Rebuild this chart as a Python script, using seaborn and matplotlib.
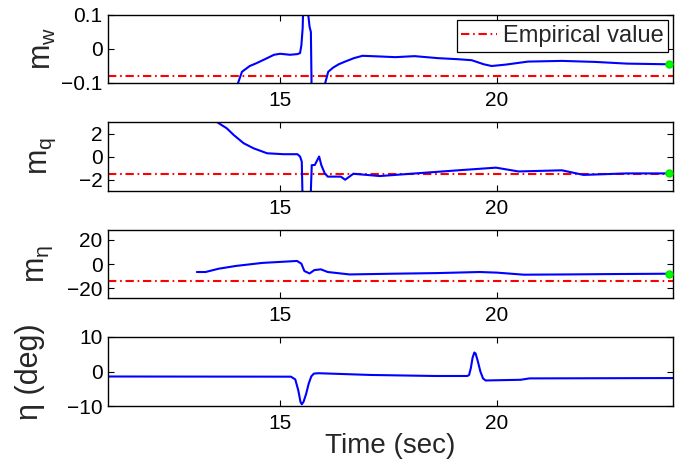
import matplotlib
matplotlib.use("Agg")
import matplotlib.pyplot as plt
from matplotlib.ticker import FixedLocator, FuncFormatter
import numpy as np
import pandas as pd
import seaborn as sns

# ---- data -------------------------------------------------------------
# m_w estimate
t_mw = [13.10, 13.95, 14.03, 14.12, 14.30, 14.45, 14.65, 14.86, 15.00, 15.23,
        15.40, 15.46, 15.49, 15.52, 15.55, 15.62, 15.65, 15.68, 15.71, 15.73,
        15.80, 16.00, 16.04, 16.11, 16.22, 16.35, 16.50, 16.70, 16.90, 17.30,
        17.66, 18.10, 18.65, 19.10, 19.42, 19.70, 19.88, 20.20, 20.72, 21.50,
        22.27, 23.00, 23.98]
v_mw = [-0.400, -0.130, -0.100, -0.067, -0.050, -0.042, -0.030, -0.017, -0.014, -0.017,
        -0.015, -0.012, 0.010, 0.060, 0.200, 0.250, 0.100, 0.065, 0.050, -0.150,
        -0.300, -0.120, -0.100, -0.067, -0.055, -0.045, -0.037, -0.027, -0.020, -0.022,
        -0.024, -0.021, -0.027, -0.030, -0.033, -0.045, -0.050, -0.046, -0.037, -0.035,
        -0.038, -0.043, -0.045]
emp_mw = -0.08

# m_q estimate
t_mq = [13.10, 13.54, 13.77, 13.93, 14.16, 14.39, 14.70, 15.08, 15.40, 15.46,
        15.50, 15.52, 15.60, 15.70, 15.73, 15.80, 15.90, 15.95, 16.03, 16.10,
        16.40, 16.50, 16.69, 17.30, 18.45, 19.22, 19.98, 20.50, 21.50, 22.00,
        23.00, 23.98]
v_mq = [6.0, 3.0, 2.45, 1.87, 1.15, 0.71, 0.28, 0.20, 0.20, 0.00,
        -0.45, -4.0, -8.0, -4.0, -0.75, -0.74, 0.00, -0.74, -1.47, -1.75,
        -1.75, -2.02, -1.50, -1.70, -1.38, -1.17, -0.97, -1.30, -1.20, -1.60,
        -1.47, -1.47]
emp_mq = -1.5

# m_eta estimate
t_me = [13.08, 13.28, 13.58, 13.98, 14.59, 15.39, 15.49, 15.56, 15.68, 15.79,
        15.94, 16.10, 16.60, 17.60, 18.60, 19.60, 20.00, 20.62, 21.60, 22.60,
        23.98]
v_me = [-6.6, -6.6, -3.9, -1.6, 0.9, 2.5, 0.3, -5.8, -7.8, -5.0,
        -4.4, -6.6, -8.6, -8.0, -7.5, -6.6, -7.1, -8.8, -8.6, -8.3,
        -8.0]
emp_me = -14.0

# elevator deflection eta (deg)
t_eta = [11.03, 15.25, 15.35, 15.42, 15.47, 15.50, 15.54, 15.60, 15.66, 15.72,
         15.78, 15.89, 17.08, 18.57, 19.32, 19.36, 19.40, 19.44, 19.48, 19.51,
         19.56, 19.62, 19.68, 19.74, 20.55, 20.75, 24.07]
v_eta = [-1.45, -1.5, -2.3, -5.5, -8.8, -9.5, -8.8, -6.5, -3.5, -1.4,
         -0.6, -0.5, -1.0, -1.3, -1.3, -1.0, 1.0, 4.0, 5.5, 5.2,
         3.0, 0.0, -2.0, -2.6, -2.4, -2.0, -1.9]

x_ticks = [15, 20]
x_range = (11.03, 24.07)

panels = [
    dict(t=t_mw, v=v_mw, emp=emp_mw, ylim=(-0.1, 0.1), yticks=[-0.1, 0, 0.1],
         label=r"$m_w$", lx=-0.088, rect=[15, 83]),
    dict(t=t_mq, v=v_mq, emp=emp_mq, ylim=(-3, 3), yticks=[-2, 0, 2],
         label=r"$m_q$", lx=-0.088, rect=[122, 191]),
    dict(t=t_me, v=v_me, emp=emp_me, ylim=(-28, 28), yticks=[-20, 0, 20],
         label=r"$m_\eta$", lx=-0.094, rect=[230, 298]),
    dict(t=t_eta, v=v_eta, emp=None, ylim=(-10, 10), yticks=[-10, 0, 10],
         label="η (deg)", lx=-0.112, rect=[337, 406]),
]

# ---- style ------------------------------------------------------------
sns.set_theme(style="ticks")
plt.rcParams["font.family"] = ["Liberation Sans", "DejaVu Sans"]
plt.rcParams["mathtext.fontset"] = "custom"
plt.rcParams["mathtext.rm"] = "Liberation Sans"
plt.rcParams["mathtext.it"] = "Liberation Sans"
plt.rcParams["mathtext.bf"] = "Liberation Sans:bold"
plt.rcParams["axes.unicode_minus"] = True

W, H = 683, 466
fig = plt.figure(figsize=(W / 100, H / 100), dpi=100)
fig.patch.set_facecolor("white")

fmt = FuncFormatter(lambda val, pos: ("%g" % val).replace("-", "\u2212"))
dashdot = (0, (4.0, 1.8, 0.8, 1.8))

for i, p in enumerate(panels):
    top, bot = p["rect"]
    ax = fig.add_axes([108 / W, (H - bot) / H, 565.3 / W, (bot - top) / H])
    df = pd.DataFrame({"t": p["t"], "v": p["v"]})
    sns.lineplot(data=df, x="t", y="v", ax=ax, color=(0, 0, 1), lw=1.5,
                 sort=False, estimator=None)
    if p["emp"] is not None:
        ax.axhline(p["emp"], color="red", lw=1.5, ls=dashdot,
                   label="Empirical value", zorder=1)
        ax.plot(p["t"][-1], p["v"][-1], "o", color=(0, 1, 0), ms=5,
                mec=(0, 0.9, 0), zorder=4)
    ax.set_xlim(*x_range)
    ax.set_ylim(*p["ylim"])
    ax.xaxis.set_major_locator(FixedLocator(x_ticks))
    ax.yaxis.set_major_locator(FixedLocator(p["yticks"]))
    ax.yaxis.set_major_formatter(fmt)
    ax.xaxis.set_major_formatter(fmt)
    ax.tick_params(direction="in", length=4, width=0.8, top=True, right=True,
                   labelsize=15, colors="black", pad=4)
    ax.tick_params(axis="x", pad=6)
    for s in ax.spines.values():
        s.set_linewidth(1.0)
        s.set_color("black")
    ax.set_xlabel("")
    ax.set_ylabel(p["label"], fontsize=22)
    ax.yaxis.set_label_coords(p["lx"], 0.5)
    if i == 0:
        ax.legend(loc="upper right", fontsize=17, frameon=True, fancybox=False,
                  edgecolor="black", framealpha=1, borderaxespad=0.22,
                  handlelength=1.5, handletextpad=0.25, borderpad=0.2)
        ax.get_legend().get_frame().set_linewidth(0.9)
    if i == 3:
        ax.set_xlabel("Time (sec)", fontsize=20, labelpad=0)

fig.savefig("out.png", dpi=100)
